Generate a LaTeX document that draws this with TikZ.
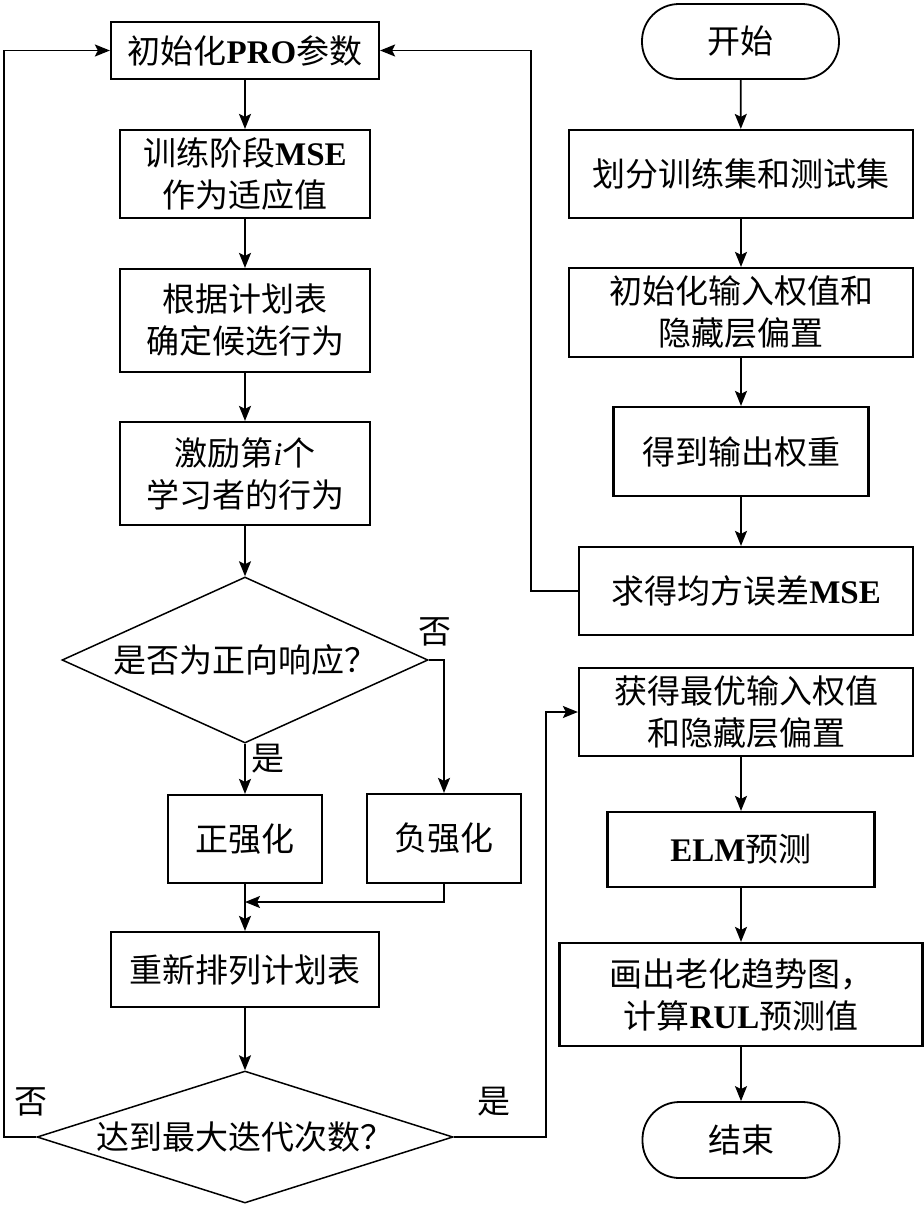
\documentclass[tikz,border=0pt]{standalone}
\usepackage{fontspec}
\setmainfont{Liberation Serif}
\newfontfamily\cjkfont{Noto Sans CJK SC}
\usetikzlibrary{arrows.meta, shapes.geometric}
\newcommand{\en}[1]{{\rmfamily\bfseries #1}}

\begin{document}
\begin{tikzpicture}[x=1pt, y=-1pt, >={Stealth[length=15pt, width=12pt, inset=3pt]},
    every node/.style={font=\cjkfont\fontsize{33}{42}\selectfont},
    procbox/.style={draw, line width=2.2pt, inner sep=0pt, align=center},
    termbox/.style={procbox, line width=1.8pt, rounded corners=37pt},
    decbox/.style={draw, diamond, line width=1.5pt, inner sep=0pt},
    flow/.style={->, line width=1.8pt}]
    \useasboundingbox (0,0) rectangle (924,1208);

    % PRO loop (left column)
    \node[procbox, minimum width=268pt, minimum height=57pt] (init) at (245,50.5) {初始化\en{PRO}参数};
    \node[procbox, minimum width=250pt, minimum height=88pt] (fit) at (245,174) {训练阶段\en{MSE}\\作为适应值};
    \node[procbox, minimum width=250pt, minimum height=103pt] (cand) at (245,320.5) {根据计划表\\确定候选行为};
    \node[procbox, minimum width=250pt, minimum height=103pt] (act) at (245,473.5) {激励第{\rmfamily\itshape i}个\\学习者的行为};
    \node[decbox, aspect=2.2, minimum width=366pt, minimum height=166pt] (dec1) at (245,660) {是否为正向响应？};
    \node[procbox, minimum width=154pt, minimum height=88pt] (pos) at (245,839) {正强化};
    \node[procbox, minimum width=154pt, minimum height=89pt] (neg) at (444,838.5) {负强化};
    \node[procbox, minimum width=268pt, minimum height=75pt] (sort) at (245,969.5) {重新排列计划表};
    \node[decbox, aspect=3.2, minimum width=416pt, minimum height=132pt] (dec2) at (245,1137) {达到最大迭代次数？};

    % ELM steps (right column)
    \node[termbox, minimum width=197pt, minimum height=75pt] (start) at (740.5,41.5) {开始};
    \node[procbox, minimum width=344pt, minimum height=88pt] (split) at (741,174) {划分训练集和测试集};
    \node[procbox, minimum width=344pt, minimum height=89pt] (initw) at (741,312.5) {初始化输入权值和\\隐藏层偏置};
    \node[procbox, minimum width=255pt, minimum height=89pt] (outw) at (741,451.5) {得到输出权重};
    \node[procbox, minimum width=334pt, minimum height=88pt] (mse) at (746,591) {求得均方误差\en{MSE}};
    \node[procbox, minimum width=334pt, minimum height=88pt] (best) at (746,712) {获得最优输入权值\\和隐藏层偏置};
    \node[procbox, minimum width=267pt, minimum height=75pt] (elm) at (741,849.5) {\en{ELM}预测};
    \node[procbox, minimum width=363pt, minimum height=103pt] (rul) at (741,994.5) {画出老化趋势图，\\计算\en{RUL}预测值};
    \node[termbox, minimum width=197pt, minimum height=76pt] (stop) at (741,1140) {结束};

    % Branch labels
    \node (no1) at (435,632) {否};
    \node (yes1) at (268,759) {是};
    \node (no2) at (31,1102) {否};
    \node (yes2) at (494,1102) {是};

    % Left connectors
    \draw[flow] (init) -- (fit);
    \draw[flow] (fit) -- (cand);
    \draw[flow] (cand) -- (act);
    \draw[flow] (act) -- (dec1);
    \draw[flow] (dec1) -- (pos);
    \draw[flow] (dec1.east) -| (neg.north);
    \coordinate (join) at (245,902);
    \draw[flow] (pos) -- (sort);
    \draw[flow] (neg.south) |- (join);
    \draw[flow] (sort) -- (dec2);
    \draw[flow] (dec2.west) -- ++(-32,0) |- (init.west);
    \coordinate (yesturn) at (546,1137);
    \draw[flow] (dec2.east) -- (yesturn) |- (best.west);
    \draw[flow] (mse.west) -- ++(-47,0) |- (init.east);

    % Right connectors
    \draw[flow] (start) -- (split);
    \draw[flow] (split) -- (initw);
    \draw[flow] (initw) -- (outw);
    \draw[flow] (outw) -- (outw |- mse.north);
    \draw[flow] (best.south -| elm) -- (elm);
    \draw[flow] (elm) -- (rul);
    \draw[flow] (rul) -- (stop);
\end{tikzpicture}
\end{document}
